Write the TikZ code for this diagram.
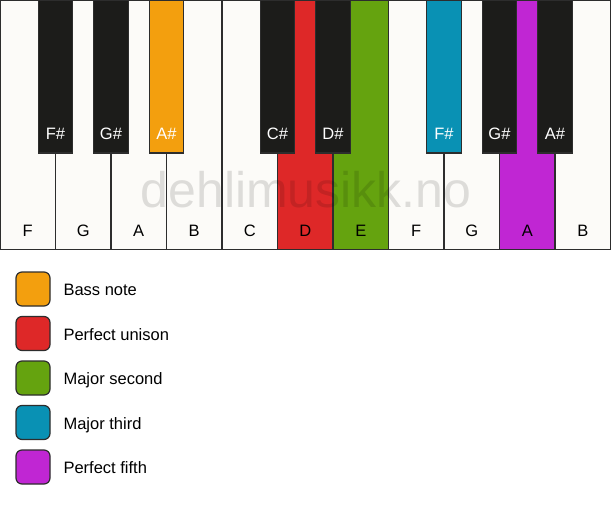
\documentclass[tikz,border=0pt]{standalone}
\usepackage[RGB]{xcolor}
\usepackage{fontspec}
\setmainfont{Liberation Sans}
\definecolor{bass}{RGB}{243,159,14}
\definecolor{unison}{RGB}{222,40,40}
\definecolor{second}{RGB}{101,163,15}
\definecolor{third}{RGB}{9,145,180}
\definecolor{fifth}{RGB}{192,38,211}
\definecolor{ivory}{RGB}{252,251,248}
\definecolor{ebony}{RGB}{28,28,26}
\definecolor{edge}{RGB}{45,45,45}
\newcommand{\keyfont}{\fontsize{16.5}{19}\selectfont}
\newcommand{\whitekey}[3]{
    \draw[keyline,fill=#2] (#1*55.5,0) rectangle ++(55.5,249.5);
    \node[anchor=base,font=\keyfont] (w#1) at (#1*55.5+27.75,236) {#3};
}
\newcommand{\blackkey}[3]{
    \draw[keyline,fill=#2] (#1*55.5-17.25,0) rectangle ++(34.5,153);
    \node[anchor=base,font=\keyfont,text=white] (b#1) at (#1*55.5,139) {#3};
}
\tikzset{
    keyline/.style={draw=edge,line width=1.2pt},
    legendbox/.style={draw=edge,line width=1.2pt,rounded corners=6pt}
}

\begin{document}
\begin{tikzpicture}[x=1pt,y=-1pt]
\fill[white] (0,0) rectangle (611,506);
\useasboundingbox (0,0) rectangle (611,506);
% white keys
\foreach \i/\c/\n in {0/ivory/F,1/ivory/G,2/ivory/A,3/ivory/B,4/ivory/C,5/unison/D,6/second/E,7/ivory/F,8/ivory/G,9/fifth/A,10/ivory/B}{
    \whitekey{\i}{\c}{\n}
}
\node[anchor=base,text=black,opacity=0.12,font=\fontsize{50}{50}\selectfont] (mark) at (306,207.7) {dehlimusikk.no};
% black keys
\foreach \i/\c/\n in {1/ebony/F\#,2/ebony/G\#,3/bass/A\#,5/ebony/C\#,6/ebony/D\#,8/third/F\#,9/ebony/G\#,10/ebony/A\#}{
    \blackkey{\i}{\c}{\n}
}
% legend
\foreach \k/\c/\t in {0/bass/Bass note,1/unison/Perfect unison,2/second/Major second,3/third/Major third,4/fifth/Perfect fifth}{
    \draw[legendbox,fill=\c] (16,272+44.5*\k) rectangle ++(34,34);
    \node[anchor=base west,font=\keyfont] (l\k) at (60,295.7+44.5*\k) {\t};
}
\end{tikzpicture}
\end{document}
